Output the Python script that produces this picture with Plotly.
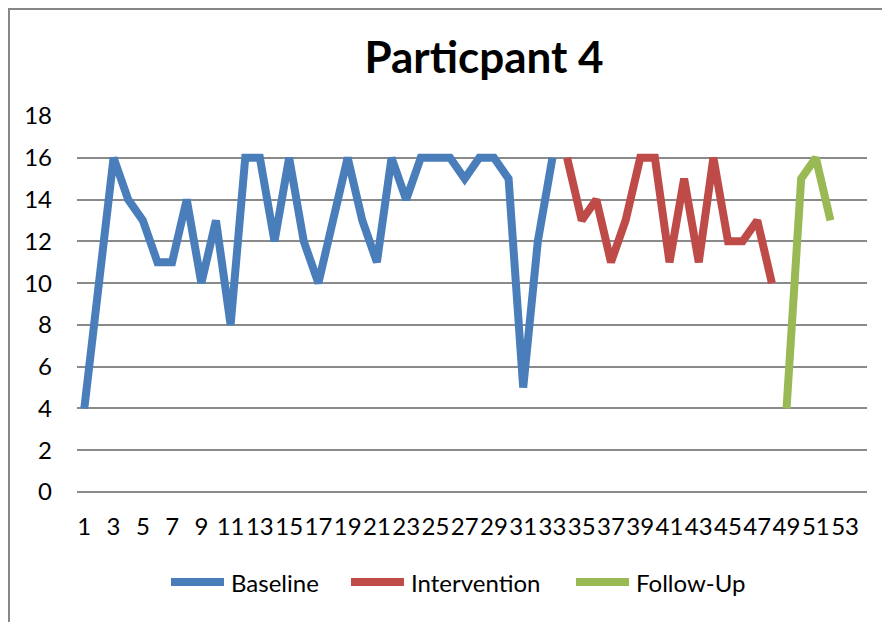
import plotly.graph_objects as go

# Data
baseline_sessions = list(range(1, 34))
baseline_values = [4, 10, 16, 14, 13, 11, 11, 14, 10, 13, 8, 16, 16, 12, 16, 12, 10, 13,
                   16, 13, 11, 16, 14, 16, 16, 16, 15, 16, 16, 15, 5, 12, 16]
intervention_sessions = list(range(34, 49))
intervention_values = [16, 13, 14, 11, 13, 16, 16, 11, 15, 11, 16, 12, 12, 13, 10]
followup_sessions = list(range(49, 53))
followup_values = [4, 15, 16, 13]
x_tick_labels = list(range(1, 54, 2))
y_ticks = list(range(0, 19, 2))
series_names = ["Baseline", "Intervention", "Follow-Up"]
series_colors = ["#4A7EBB", "#BE4B48", "#98B954"]

# the page body has an 8px margin; the figure is sized to fill the rest of the window
OFF = 8
W, H = 890 - OFF, 622 - OFF
L, T = 77 - OFF, 116 - OFF
R = W - (867 - OFF)
B = H - (492 - OFF)
pw, ph = W - L - R, H - T - B

FONT = "Lato"


def px_x(p):
    return (p - OFF - L) / pw


def px_y(p):
    return (H - B - (p - OFF)) / ph


fig = go.Figure()
for sx, sy, name, col in [(baseline_sessions, baseline_values, series_names[0], series_colors[0]),
                          (intervention_sessions, intervention_values, series_names[1], series_colors[1]),
                          (followup_sessions, followup_values, series_names[2], series_colors[2])]:
    fig.add_trace(go.Scatter(x=sx, y=sy, mode="lines", name=name, showlegend=False,
                             line=dict(color=col, width=8)))

# chart border (top and left edges visible)
border = "#878787"
fig.add_shape(type="line", xref="paper", yref="paper", x0=px_x(9), x1=px_x(9),
              y0=px_y(640), y1=px_y(9), line=dict(color=border, width=2))
fig.add_shape(type="line", xref="paper", yref="paper", x0=px_x(8), x1=px_x(900),
              y0=px_y(9), y1=px_y(9), line=dict(color=border, width=2))

# legend
leg_starts = [168, 348, 573]
leg_y = px_y(582)
for name, col, xs in zip(series_names, series_colors, leg_starts):
    fig.add_shape(type="line", xref="paper", yref="paper", x0=px_x(xs + 3), x1=px_x(xs + 56),
                  y0=leg_y, y1=leg_y, line=dict(color=col, width=8))
    fig.add_annotation(xref="paper", yref="paper", x=px_x(xs + 61), y=leg_y, text=name,
                       showarrow=False, xanchor="left", yanchor="middle",
                       font=dict(family=FONT, size=24, color="black"))

fig.update_layout(
    width=W, height=H,
    margin=dict(l=L, r=R, t=T, b=B, autoexpand=False),
    paper_bgcolor="white", plot_bgcolor="white",
    font=dict(family=FONT, size=24, color="black"),
    title=dict(text="<b>Particpant 4</b>", x=(484 - OFF) / W, xref="container", xanchor="center",
               y=1 - (58 - OFF) / H, yref="container", yanchor="middle",
               font=dict(family=FONT, size=44, color="black")),
    showlegend=False,
    xaxis=dict(range=[0.5, 54.5], tickmode="array", tickvals=x_tick_labels,
               ticktext=[str(v) for v in x_tick_labels], tickangle=0,
               showgrid=False, zeroline=False, showline=False, ticks="",
               ticklabelstandoff=18, tickfont=dict(family=FONT, size=24)),
    yaxis=dict(range=[0, 18], tickmode="array", tickvals=y_ticks,
               showgrid=True, gridcolor="#8a8a8a", gridwidth=1.5,
               zeroline=True, zerolinecolor="#8a8a8a", zerolinewidth=1.5,
               showline=False, ticks="",
               ticklabelstandoff=24, tickfont=dict(family=FONT, size=24)),
)

fig.write_html("out.html")
